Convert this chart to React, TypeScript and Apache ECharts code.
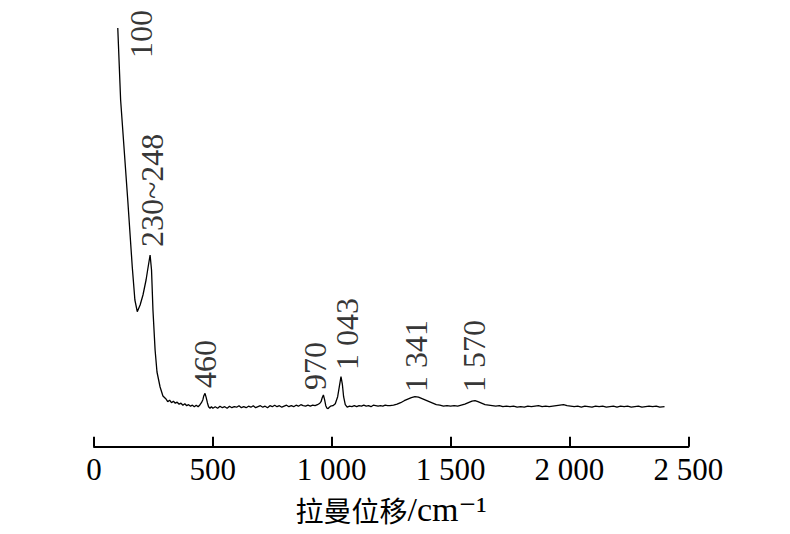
import React, { useEffect, useRef } from "react";
import * as echarts from "echarts";

// Raman shift (cm^-1) and intensity (arbitrary units)
const shift: number[] = [
  100, 112, 142, 161, 172, 182, 194, 206, 219, 227, 236, 242, 248, 257, 265, 278, 290, 303,
  310, 318, 326, 334, 342, 350, 358, 366, 374, 382, 390, 398, 406, 414, 422, 430, 438, 446,
  452, 458, 462, 467, 472, 477, 482, 488, 494, 500, 510, 520, 530, 540, 550, 560, 570, 580,
  590, 600, 610, 620, 630, 640, 650, 660, 670, 680, 690, 700, 710, 720, 730, 740, 750, 760,
  770, 780, 790, 800, 810, 820, 830, 840, 850, 860, 870, 880, 890, 900, 910, 920, 930, 940,
  950, 955, 960, 965, 970, 975, 980, 985, 990, 995, 1005, 1015, 1025, 1032, 1039, 1045, 1050,
  1057, 1065, 1075, 1085, 1095, 1105, 1115, 1125, 1135, 1145, 1155, 1165, 1175, 1185, 1195,
  1205, 1215, 1225, 1235, 1245, 1260, 1275, 1290, 1305, 1320, 1335, 1350, 1365, 1380, 1395,
  1410, 1425, 1440, 1455, 1470, 1485, 1500, 1515, 1530, 1545, 1560, 1575, 1590, 1603, 1615,
  1630, 1645, 1660, 1675, 1690, 1705, 1720, 1735, 1750, 1765, 1780, 1795, 1810, 1825, 1840,
  1855, 1870, 1885, 1900, 1915, 1930, 1945, 1960, 1975, 1990, 2005, 2020, 2035, 2050, 2065,
  2080, 2095, 2110, 2125, 2140, 2155, 2170, 2185, 2200, 2215, 2230, 2245, 2260, 2275, 2290,
  2305, 2320, 2335, 2350, 2365, 2380, 2400,
];
const intensity: number[] = [
  418.7, 346.7, 246.7, 179.7, 146.7, 135, 141.7, 151.7, 166.7, 178.7, 191.7, 176.7, 136.7, 96.7, 74.7, 59.7, 50.7, 47.7,
  45, 46.5, 44, 45.5, 43.5, 44.5, 42.5, 43.5, 41.5, 43, 41, 42, 40.5, 41.5, 40, 41.5, 40, 42,
  44, 47, 51, 53.4, 49, 44, 40, 38.5, 40, 38.5, 40, 38.5, 40.5, 39, 40, 38.5, 40.5, 39,
  40, 39.5, 41, 39, 40, 39, 40.5, 39.5, 41, 39, 40, 41, 39.5, 40.5, 39, 41, 40, 41.5,
  40, 41, 39.5, 40.5, 41.5, 40, 41, 40, 41.5, 40.5, 42, 41, 40.5, 41.5, 40.5, 41.5, 41, 42,
  43.5, 45, 49, 51.7, 47, 41, 38.5, 38, 39.5, 40.5, 41, 43, 50, 60, 70, 62, 50,
  42, 39.5, 40.5, 40, 41, 40, 41, 40.5, 41.5, 40.5, 41, 40, 41.5, 41, 40.5,
  41, 40.5, 41.5, 41, 41, 41.5, 42.5, 44, 46, 47.5, 49, 50, 49.5, 48, 46.5,
  45, 43.5, 42, 41.5, 40.5, 41, 40.5, 41, 40.5, 41.5, 42.5, 44, 45.5, 46, 45,
  43.5, 42, 41.5, 41, 40.5, 41, 40, 40.5, 40, 40.5, 39.5, 40, 39.5, 40.5, 40,
  40.5, 41, 40, 40.5, 40, 40.5, 41, 41.5, 42, 41, 40.5, 40, 40.5, 39.5, 40.5,
  40, 39.5, 40.5, 40, 40.5, 39.5, 40, 40.5, 39.5, 40.5, 40, 40.5, 39.5, 40, 40.5,
  39.5, 40, 40.5, 40, 40.5, 39.5, 40,
];

// Peak annotations (text, anchor at the bottom of the rotated text)
const peakText: string[] = ["100", "230~248", "460", "970", "1 043", "1 341", "1 570"];
const peakLabelX: number[] = [198, 244, 467, 930, 1064, 1355, 1599];
const peakLabelY: number[] = [388.7, 199.7, 58.7, 56.7, 76.7, 54.7, 54.7];

// x-axis ticks
const xTicks: number[] = [0, 500, 1000, 1500, 2000, 2500];
const xTickText: string[] = ["0", "500", "1 000", "1 500", "2 000", "2 500"];

export default function App() {
  const ref = useRef<HTMLDivElement>(null);
  useEffect(() => {
    if (!ref.current) return;
    const chart = echarts.init(ref.current, null, { renderer: "svg" });
    const serif = "Liberation Serif, DejaVu Serif, serif";
    chart.setOption({
      animation: false,
      backgroundColor: "#ffffff",
      grid: { left: 94, right: 101.7, top: 26.7, bottom: 87.3, containLabel: false },
      xAxis: {
        type: "value",
        min: xTicks[0],
        max: xTicks[xTicks.length - 1],
        interval: 500,
        axisLine: { show: true, lineStyle: { color: "#000", width: 2 } },
        axisTick: { show: true, inside: true, length: 10, lineStyle: { color: "#000", width: 2 } },
        splitLine: { show: false },
        axisLabel: {
          margin: 7,
          color: "#000",
          fontFamily: serif,
          fontSize: 31,
          formatter: (v: number) => {
            const i = xTicks.indexOf(v);
            return i >= 0 ? xTickText[i] : "";
          },
        },
        name: "{c|拉曼位移}{l|/cm⁻¹}",
        nameLocation: "middle",
        nameGap: 46,
        nameTextStyle: {
          verticalAlign: "top",
          rich: {
            c: { fontFamily: "Noto Sans CJK SC, sans-serif", fontSize: 28, color: "#000" },
            l: { fontFamily: serif, fontSize: 34, color: "#000" },
          },
        },
      },
      yAxis: {
        type: "value",
        min: 0,
        max: 420,
        show: false,
        splitLine: { show: false },
      },
      series: [
        {
          type: "line",
          data: shift.map((x, i) => [x, intensity[i]]),
          showSymbol: false,
          symbol: "none",
          lineStyle: { color: "#000", width: 1.3 },
          silent: true,
        },
        {
          type: "scatter",
          symbolSize: 0,
          silent: true,
          data: peakText.map((t, i) => ({ value: [peakLabelX[i], peakLabelY[i]], name: t })),
          label: {
            show: true,
            position: "inside",
            rotate: 90,
            align: "left",
            verticalAlign: "middle",
            formatter: (p: any) => p.name,
            color: "#000",
            fontFamily: serif,
            fontSize: 32,
          },
        },
      ],
    });
    return () => chart.dispose();
  }, []);
  return (
    <div
      ref={ref}
      style={{ position: "fixed", left: 0, top: 0, width: 790, height: 534, background: "#fff" }}
    />
  );
}
